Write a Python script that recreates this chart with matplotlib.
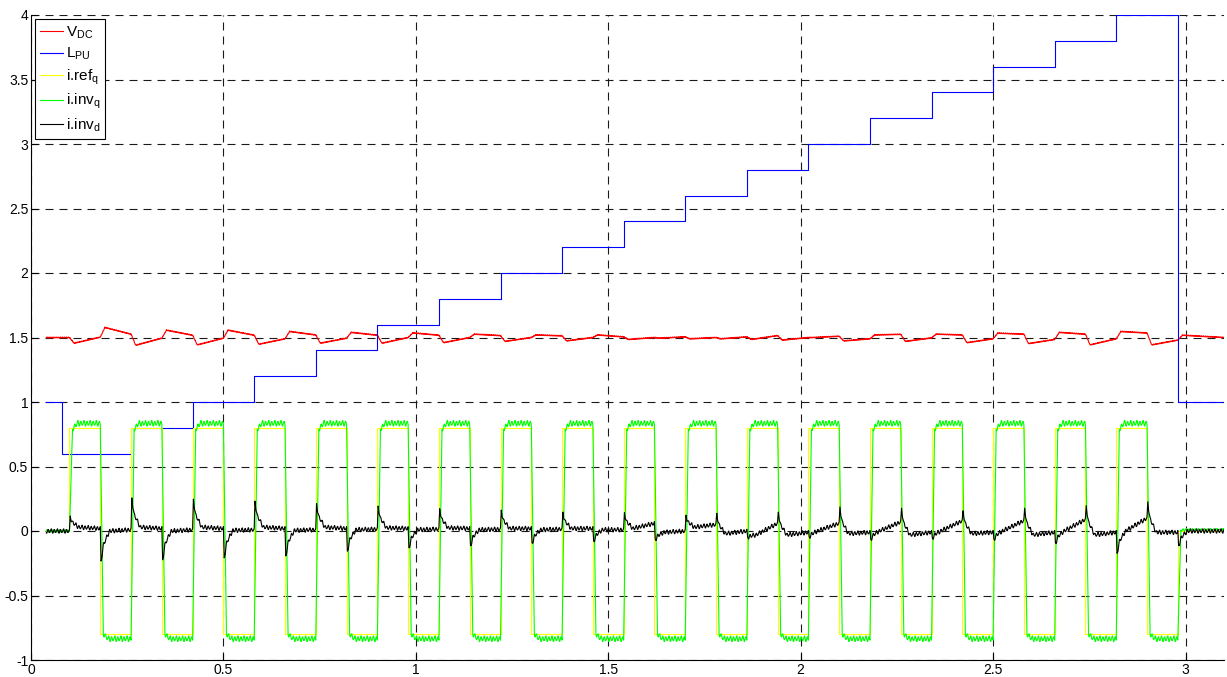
import numpy as np
import matplotlib
matplotlib.use("Agg")
import matplotlib.pyplot as plt

plt.rcParams['font.family'] = ['Liberation Sans', 'DejaVu Sans']
plt.rcParams['mathtext.fontset'] = 'custom'
plt.rcParams['mathtext.rm'] = 'Liberation Sans'
plt.rcParams['mathtext.default'] = 'regular'
plt.rcParams['axes.unicode_minus'] = False

# ---------------- data ----------------
t_start, t_end = 0.04, 3.10

# switching instants of the q-current reference
edge_times = [0.10, 0.18, 0.26, 0.34, 0.42, 0.50, 0.58, 0.66, 0.74, 0.82,
              0.90, 0.98, 1.06, 1.14, 1.22, 1.30, 1.38, 1.46, 1.54, 1.62,
              1.70, 1.78, 1.86, 1.94, 2.02, 2.10, 2.18, 2.26, 2.34, 2.42,
              2.50, 2.58, 2.66, 2.74, 2.82, 2.90, 2.98]
# i.ref_q level after each edge
ref_levels = [0.8, -0.8] * 18 + [0.0]
# i.inv_q plateau after each edge
invq_levels = [0.835, -0.835] * 18 + [0.01]

# L_PU step signal
lpu_times = [0.04, 0.08, 0.26, 0.42, 0.58, 0.74, 0.90, 1.06, 1.22, 1.38, 1.54,
             1.70, 1.86, 2.02, 2.18, 2.34, 2.50, 2.66, 2.82, 2.98, 3.10]
lpu_levels = [1.0, 0.6, 0.8, 1.0, 1.2, 1.4, 1.6, 1.8, 2.0, 2.2, 2.4,
              2.6, 2.8, 3.0, 3.2, 3.4, 3.6, 3.8, 4.0, 1.0, 1.0]

# V_DC: initial value, value just after each edge, value at the end of each interval
vdc_init = 1.50
vdc_peak = [1.456, 1.578, 1.440, 1.557, 1.443, 1.557, 1.448, 1.547, 1.456, 1.540,
            1.456, 1.536, 1.460, 1.526, 1.470, 1.520, 1.474, 1.520, 1.485, 1.495,
            1.490, 1.490, 1.485, 1.480, 1.500, 1.474, 1.520, 1.470, 1.526, 1.460,
            1.534, 1.453, 1.540, 1.443, 1.547, 1.443, 1.518]
vdc_end = [1.503, 1.526, 1.495, 1.518, 1.495, 1.518, 1.490, 1.520, 1.495, 1.518,
           1.500, 1.518, 1.500, 1.515, 1.500, 1.513, 1.500, 1.505, 1.500, 1.505,
           1.500, 1.505, 1.515, 1.500, 1.510, 1.490, 1.525, 1.497, 1.520, 1.490,
           1.526, 1.485, 1.526, 1.490, 1.535, 1.480, 1.500]

# i.inv_d: transient peak after each edge, settled value, value at end of interval
invd_peak = [0.11, -0.24, 0.25, -0.23, 0.24, -0.215, 0.225, -0.20, 0.207, -0.163,
             0.187, -0.137, 0.166, -0.12, 0.155, -0.10, 0.14, -0.085, 0.135, -0.07,
             0.115, 0.13, -0.05, 0.14, -0.05, 0.18, -0.07, 0.17, -0.06, 0.15,
             -0.07, 0.17, -0.10, 0.19, -0.18, 0.22, -0.12]
invd_settle = [0.03, 0.0, 0.03, 0.0, 0.03, 0.005, 0.03, 0.005, 0.03, 0.01,
               0.025, 0.01, 0.025, 0.01, 0.02, 0.01, 0.02, 0.01, 0.02, -0.01,
               0.03, -0.02, -0.03, -0.03, 0.0, -0.02, 0.0, -0.03, 0.0, -0.02,
               0.0, -0.03, 0.0, -0.03, 0.0, -0.01, 0.0]
invd_end = [0.02, 0.01, 0.02, 0.01, 0.02, 0.01, 0.02, 0.01, 0.02, 0.015,
            0.02, 0.015, 0.02, 0.015, 0.02, 0.015, 0.02, 0.01, 0.06, 0.0,
            0.05, 0.0, 0.06, -0.01, 0.06, -0.01, 0.07, -0.01, 0.08, -0.01,
            0.08, -0.01, 0.09, -0.01, 0.10, -0.01, 0.0]

# switching ripple (normalised), as seen on the traces
ripple_cycle = [0.1, 0.8, 1.0, 0.4, -0.3, -0.9, -1.0, -0.4,
                0.2, 0.6, 0.7, 0.1, -0.5, -0.7, -0.6, -0.1]
fine_ripple = [0.2, -0.6, 1.0, -0.3, -0.8]

x_ticks = [0, 0.5, 1, 1.5, 2, 2.5, 3]
x_ticklabels = ['0', '0.5', '1', '1.5', '2', '2.5', '3']
y_ticks = [-1, -0.5, 0, 0.5, 1, 1.5, 2, 2.5, 3, 3.5, 4]
y_ticklabels = ['-1', '-0.5', '0', '0.5', '1', '1.5', '2', '2.5', '3', '3.5', '4']
labels = [r'V$_{DC}$', r'L$_{PU}$', r'i.ref$_{q}$', r'i.inv$_{q}$', r'i.inv$_{d}$']
colors = ['#ff0000', '#0000ff', '#ffff00', '#00ff00', '#000000']

# ---------------- build traces ----------------
t = np.round(np.arange(t_start, t_end + 1e-9, 0.001), 3)
n = len(t)
rip = np.resize(np.array(ripple_cycle), n)
rip2 = np.resize(np.array(ripple_cycle[5:] + ripple_cycle[:5]), n)
frip = np.resize(np.array(fine_ripple), n)

nxt = edge_times[1:] + [t_end]

# V_DC
rt, rv = [t_start, edge_times[0]], [vdc_init, vdc_init]
for k, e in enumerate(edge_times):
    rt += [e + 0.012, nxt[k]]
    rv += [vdc_peak[k], vdc_end[k]]
vdc = np.interp(t, rt, rv) + 0.004 * frip

# i.inv_q
gt, gv = [t_start, edge_times[0]], [0.0, 0.0]
for k, e in enumerate(edge_times):
    gt += [e + 0.008, e + 0.02, nxt[k]]
    gv += [0.95 * invq_levels[k], invq_levels[k], invq_levels[k]]
invq = np.interp(t, gt, gv)
invq = invq + np.where(np.abs(invq) > 0.3, 0.022, 0.01) * rip

# i.inv_d
bt, bv = [t_start, edge_times[0]], [0.0, 0.0]
for k, e in enumerate(edge_times):
    p, s = invd_peak[k], invd_settle[k]
    bt += [e + 0.002, e + 0.008, e + 0.024, nxt[k]]
    bv += [p, s + 0.45 * (p - s), s, invd_end[k]]
invd = np.interp(t, bt, bv) + 0.017 * rip2

ref_t = [t_start] + edge_times + [t_end]
ref_v = [0.0] + ref_levels + [ref_levels[-1]]

# ---------------- figure ----------------
fig = plt.figure(figsize=(12.27, 6.77), dpi=100)
ax = fig.add_axes([31 / 1227, 17 / 677, 1193 / 1227, 645 / 677])

lw = 0.8
ax.plot(t, vdc, color=colors[0], lw=lw, label=labels[0])
ax.step(lpu_times, lpu_levels, where='post', color=colors[1], lw=lw, label=labels[1])
ax.step(ref_t, ref_v, where='post', color=colors[2], lw=lw, label=labels[2])
ax.plot(t, invq, color=colors[3], lw=lw, label=labels[3])
ax.plot(t, invd, color=colors[4], lw=lw, label=labels[4])

ax.set_xlim(0, 3.1)
ax.set_ylim(-1, 4)
ax.set_xticks(x_ticks)
ax.set_xticklabels(x_ticklabels)
ax.set_yticks(y_ticks)
ax.set_yticklabels(y_ticklabels)
ax.tick_params(direction='in', length=5, width=0.8, labelsize=10, pad=2,
               top=False, right=False, colors='k')
for side in ['top', 'right']:
    ax.spines[side].set_visible(False)
for side in ['left', 'bottom']:
    ax.spines[side].set_linewidth(0.8)
    ax.spines[side].set_color('k')

ax.set_axisbelow(True)
ax.grid(True, color='0.1', linestyle=(0, (7.2, 5.4)), linewidth=0.8)

leg = ax.legend(loc='upper left', bbox_to_anchor=(0.0034, 0.9938), borderaxespad=0,
                fontsize=11, frameon=True, fancybox=False, framealpha=1,
                edgecolor='k', handlelength=1.45, handletextpad=0.2,
                labelspacing=0.34, borderpad=0.35)
leg.get_frame().set_linewidth(0.8)

fig.savefig('out.png', dpi=100)
